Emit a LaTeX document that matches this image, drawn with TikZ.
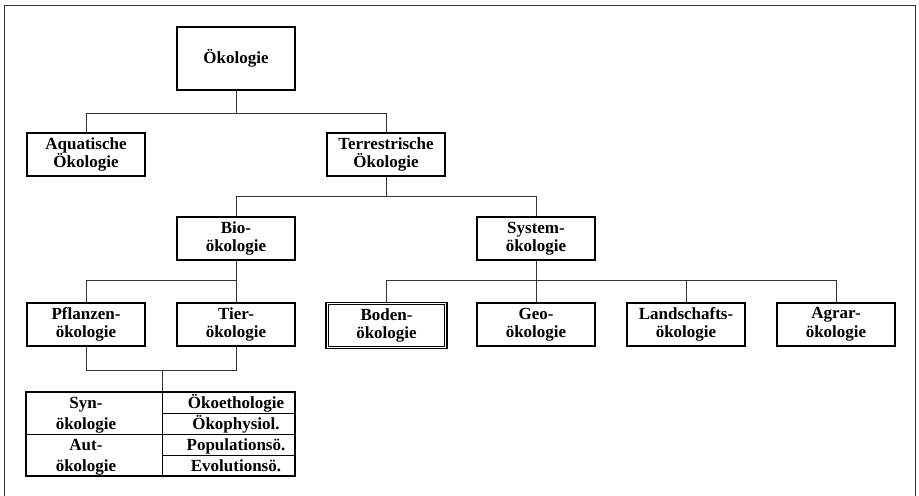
\documentclass[tikz,border=0pt]{standalone}
\usepackage{fontspec}
\setmainfont{Liberation Serif}
\begin{document}
\begin{tikzpicture}[x=1bp,y=-1bp,
  box/.style={draw=black, line width=1.3bp, minimum width=118bp, minimum height=43bp, inner sep=0pt, align=center, font=\fontsize{17bp}{18.5bp}\selectfont\bfseries},
  conn/.style={draw=black!80, line width=0.8bp},
  txt/.style={inner sep=0pt, anchor=base, font=\fontsize{17bp}{18.5bp}\selectfont\bfseries},
  tabline/.style={draw=black, line width=1bp}]
\useasboundingbox (0,0) rectangle (919,496);
% outer frame
\draw[line width=0.9bp, black!80] (4,496) -- (4,5) -- (915,5) -- (915,496);
% boxes
\node[box, minimum height=63bp] (oek) at (236,58.5) {Ökologie};
\node[box] (aqua) at (86,154.5) {Aquatische\\Ökologie};
\node[box] (terr) at (386,154.5) {Terrestrische\\Ökologie};
\node[box] (bio) at (236,238.5) {Bio-\\ökologie};
\node[box] (sys) at (536,238.5) {System-\\ökologie};
\node[box] (pfl) at (86,324.5) {Pflanzen-\\ökologie};
\node[box] (tier) at (236,324.5) {Tier-\\ökologie};
\node[box, line width=1.6bp, minimum width=121bp, minimum height=46bp] (boden) at (386.5,325.5) {Boden-\\ökologie};
\draw[line width=0.7bp] ([xshift=3bp,yshift=-3bp]boden.north west) rectangle ([xshift=-3bp,yshift=3bp]boden.south east);
\node[box] (geo) at (536,324.5) {Geo-\\ökologie};
\node[box] (land) at (686,324.5) {Landschafts-\\ökologie};
\node[box] (agrar) at (836,324.5) {Agrar-\\ökologie};
% table
\node[draw, line width=1.3bp, minimum width=269bp, minimum height=84bp, inner sep=0pt] (tab) at (160.5,434) {};
\coordinate (div) at (162,434);
\draw[tabline] (tab.north -| div) -- (tab.south -| div);
\draw[tabline] (tab.west) -- (tab.east);
\draw[tabline] (162,413) -- (295,413);
\draw[tabline] (162,455) -- (295,455);
\node[txt] (syn1) at (86,408) {Syn-};
\node[txt] (syn2) at (86,429) {ökologie};
\node[txt] (aut1) at (86,450) {Aut-};
\node[txt] (aut2) at (86,471) {ökologie};
\node[txt] (r1) at (236,408) {Ökoethologie};
\node[txt] (r2) at (236,429) {Ökophysiol.};
\node[txt] (r3) at (236,450) {Populationsö.};
\node[txt] (r4) at (236,471) {Evolutionsö.};
% bus levels
\coordinate (b1) at (0,113);
\coordinate (b2) at (0,196);
\coordinate (b3) at (0,280);
\coordinate (b4) at (0,370);
% connectors
\draw[conn] (oek.south) -- (oek.south |- b1);
\draw[conn] (aqua.north) -- (aqua.north |- b1) -- (terr.north |- b1) -- (terr.north);
\draw[conn] (terr.south) -- (terr.south |- b2);
\draw[conn] (bio.north) -- (bio.north |- b2) -- (sys.north |- b2) -- (sys.north);
\draw[conn] (bio.south) -- (bio.south |- b3);
\draw[conn] (pfl.north) -- (pfl.north |- b3) -- (tier.north |- b3) -- (tier.north);
\draw[conn] (sys.south) -- (sys.south |- b3);
\draw[conn] (boden.north) -- (boden.north |- b3) -- (agrar.north |- b3) -- (agrar.north);
\draw[conn] (geo.north) -- (geo.north |- b3);
\draw[conn] (land.north) -- (land.north |- b3);
\draw[conn] (pfl.south) -- (pfl.south |- b4) -- (tier.south |- b4) -- (tier.south);
\draw[conn] (div |- b4) -- (tab.north -| div);
\end{tikzpicture}
\end{document}
